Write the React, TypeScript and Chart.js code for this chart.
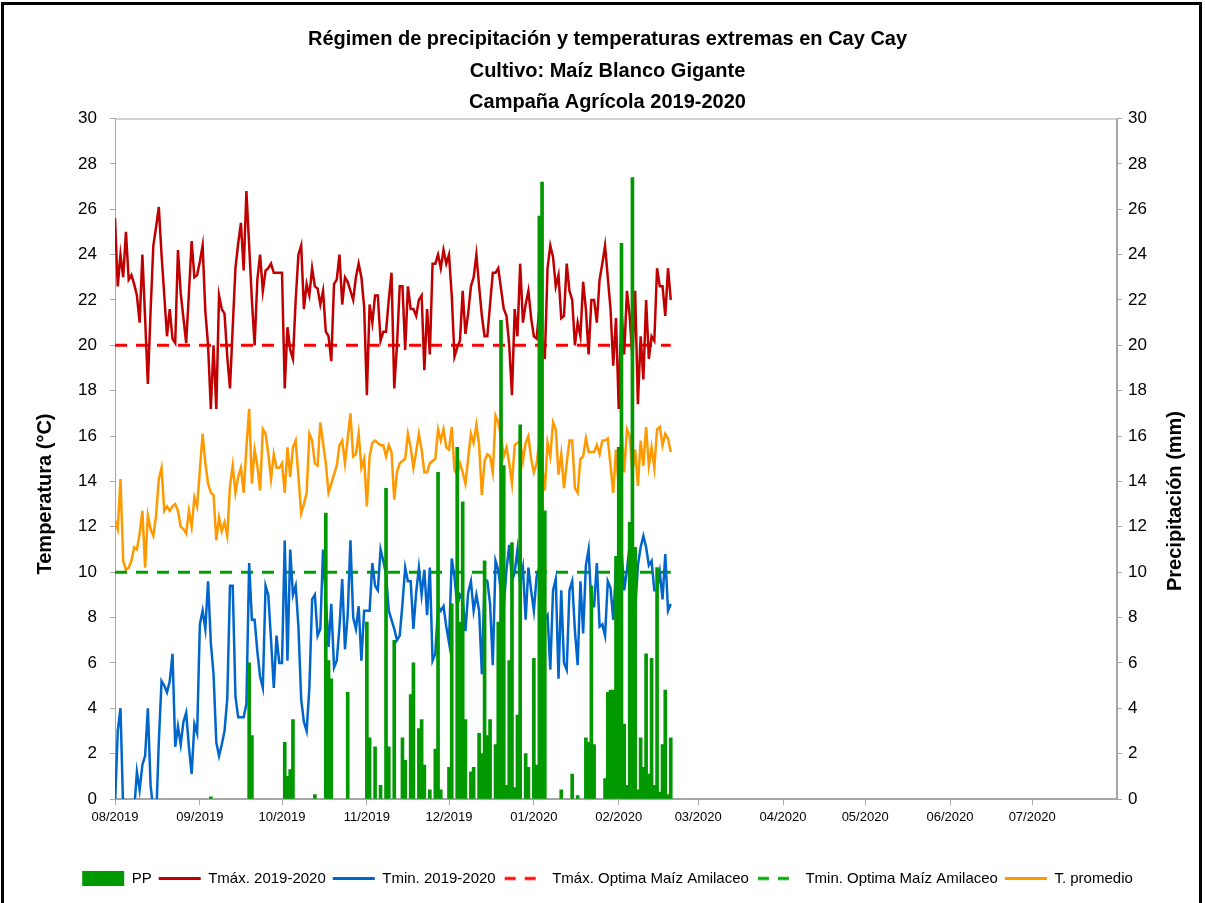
import React, { useEffect, useRef } from 'react';
import { Chart, registerables } from 'chart.js';

Chart.register(...registerables);

const START_UTC = Date.UTC(2019, 7, 1);
const DAY_MS = 86400000;

const TITLE_LINES = [
  'Régimen de precipitación y temperaturas extremas en Cay Cay',
  'Cultivo: Maíz Blanco Gigante',
  'Campaña Agrícola 2019-2020',
];

const Y_TITLE_LEFT = 'Temperatura (°C)';
const Y_TITLE_RIGHT = 'Precipitación (mm)';

const MONTH_LABELS = [
  '08/2019', '09/2019', '10/2019', '11/2019', '12/2019', '01/2020',
  '02/2020', '03/2020', '04/2020', '05/2020', '06/2020', '07/2020',
];
const AXIS_END_LABEL = '08/2020';

const SERIES_LABELS = [
  'PP',
  'Tmáx. 2019-2020',
  'Tmin. 2019-2020',
  'Tmáx. Optima Maíz Amilaceo',
  'Tmin. Optima Maíz Amilaceo',
  'T. promedio',
];

// Daily maximum temperature (°C), from 01/08/2019
const TMAX = [
  25.6, 22.6, 24.0, 23.0, 25.0, 22.9, 23.1, 22.7, 22.2, 21.0,
  24.0, 21.2, 18.3, 21.5, 24.4, 25.2, 26.1, 24.0, 22.2, 20.4,
  21.6, 20.3, 20.1, 24.2, 22.3, 21.2, 20.1, 22.3, 24.6, 23.0,
  23.1, 23.7, 24.4, 21.5, 20.0, 17.2, 20.0, 17.2, 22.2, 21.6,
  21.4, 19.5, 18.1, 20.8, 23.4, 24.5, 25.4, 23.3, 26.8, 24.4,
  22.0, 20.0, 22.9, 24.0, 22.4, 23.3, 23.4, 23.6, 23.2, 23.2,
  23.2, 23.2, 18.1, 20.8, 19.8, 19.4, 22.0, 24.0, 24.4, 21.6,
  22.7, 22.2, 23.4, 22.6, 22.5, 21.8, 22.4, 20.6, 20.4, 19.3,
  22.7, 22.9, 24.0, 21.8, 23.0, 22.8, 22.4, 22.0, 23.0, 23.6,
  23.0, 21.7, 17.8, 21.8, 21.0, 22.2, 22.2, 20.2, 20.6, 20.6,
  22.0, 23.2, 18.1, 20.0, 22.6, 22.6, 19.8, 22.6, 21.6, 21.6,
  21.3, 22.0, 22.2, 18.9, 21.6, 19.6, 23.6, 23.6, 24.0, 23.4,
  24.2, 23.6, 24.0, 22.2, 19.5, 19.9, 20.2, 22.4, 20.5, 21.4,
  22.6, 23.0, 24.0, 22.6, 21.3, 20.4, 20.4, 21.8, 23.2, 23.2,
  23.4, 22.5, 21.6, 21.3, 20.0, 17.8, 21.6, 20.4, 23.6, 21.0,
  21.8, 22.4, 21.2, 20.4, 20.3, 21.6, 20.2, 19.4, 23.4, 24.4,
  23.9, 22.6, 23.1, 21.2, 21.3, 23.6, 22.4, 22.0, 20.0, 21.0,
  20.4, 22.8, 21.6, 19.6, 22.0, 22.0, 21.0, 22.9, 23.6, 24.4,
  23.0, 21.6, 19.1, 21.2, 17.2, 21.6, 19.6, 22.4, 21.3, 19.4,
  22.4, 17.4, 20.4, 18.5, 22.0, 19.4, 20.4, 20.2, 23.4, 22.6,
  22.6, 21.3, 23.4, 22.0,
];

// Daily minimum temperature (°C)
const TMIN = [
  -0.3, 3.0, 4.0, -0.5, -1.5, -1.0, -1.5, -0.5, 1.2, 0.4,
  1.5, 1.9, 4.0, 0.6, -0.5, -1.0, 2.5, 5.2, 5.0, 4.7,
  5.2, 6.4, 2.3, 3.2, 2.4, 3.4, 3.8, 2.3, 1.1, 3.3,
  2.9, 7.7, 8.3, 7.5, 9.6, 6.9, 5.5, 2.5, 1.9, 2.4,
  3.0, 4.4, 9.4, 9.4, 4.5, 3.6, 3.6, 3.6, 4.2, 10.4,
  7.9, 7.9, 6.5, 5.4, 4.9, 9.4, 9.0, 7.0, 4.9, 7.2,
  6.0, 6.0, 11.4, 6.1, 11.0, 9.0, 9.4, 7.6, 4.4, 3.4,
  3.0, 4.9, 8.8, 9.0, 7.2, 7.5, 11.0, 8.8, 6.7, 8.6,
  5.8, 6.1, 7.6, 9.7, 6.6, 8.1, 11.4, 8.0, 7.5, 8.5,
  6.1, 8.3, 8.3, 8.3, 10.4, 9.4, 9.2, 11.0, 10.5, 9.9,
  8.3, 7.9, 7.5, 7.0, 7.2, 8.6, 10.2, 9.6, 9.6, 7.5,
  9.1, 10.2, 9.0, 10.1, 8.1, 10.2, 6.1, 6.4, 8.5, 8.3,
  8.5, 7.6, 6.9, 10.6, 9.8, 8.5, 9.0, 8.8, 7.4, 9.1,
  9.6, 8.3, 9.0, 8.3, 5.5, 9.7, 9.6, 8.6, 5.9, 10.5,
  10.1, 9.1, 8.5, 10.1, 11.2, 9.6, 10.0, 11.0, 9.5, 10.2,
  7.9, 10.2, 9.2, 8.3, 9.8, 10.2, 9.4, 7.9, 8.1, 5.7,
  9.2, 9.7, 5.3, 9.2, 6.0, 5.7, 9.2, 9.6, 7.4, 5.9,
  9.6, 7.3, 10.3, 11.0, 8.5, 8.5, 10.4, 7.6, 7.7, 7.2,
  9.6, 9.3, 7.9, 10.2, 10.7, 11.0, 9.2, 10.1, 11.2, 9.4,
  8.3, 10.3, 11.1, 11.6, 11.1, 10.3, 10.5, 9.2, 9.2, 10.0,
  8.8, 10.8, 8.3, 8.6,
];

// Daily mean temperature (°C)
const TAVG = [
  12.3, 11.9, 14.1, 10.5, 10.1, 10.2, 10.5, 11.1, 11.0, 11.7,
  12.7, 10.2, 12.5, 11.9, 11.6, 12.5, 14.1, 14.6, 12.7, 12.9,
  12.7, 12.9, 13.0, 12.7, 12.0, 11.9, 11.7, 12.7, 12.0, 13.3,
  12.9, 14.5, 16.1, 14.8, 13.9, 13.5, 13.4, 11.4, 12.4, 11.8,
  12.2, 11.6, 13.8, 14.7, 13.5, 14.2, 14.6, 13.5, 15.5, 17.2,
  13.9, 15.4, 14.7, 13.6, 16.3, 16.1, 15.2, 14.1, 15.2, 14.6,
  14.6, 14.8, 13.5, 15.5, 14.2, 15.5, 15.8, 14.2, 12.6, 13.0,
  13.5, 16.1, 15.8, 14.8, 14.7, 16.6, 15.7, 14.8, 13.5, 13.9,
  14.3, 14.7, 15.6, 15.8, 14.8, 15.9, 17.0, 15.1, 15.2, 16.1,
  14.6, 15.0, 12.9, 15.1, 15.7, 15.8, 15.7, 15.6, 15.6, 15.1,
  15.6, 15.3, 13.2, 14.4, 14.8, 14.9, 15.0, 16.1, 15.5, 14.6,
  15.3, 16.1, 15.4, 14.4, 14.4, 14.8, 14.9, 15.0, 16.3, 15.8,
  16.3, 15.5, 15.4, 16.4, 14.5, 14.3, 14.8, 14.4, 13.9, 15.0,
  16.1, 15.7, 16.5, 15.6, 13.4, 14.9, 15.2, 15.1, 14.4, 16.9,
  16.6, 16.0, 15.1, 15.5, 14.8, 13.9, 15.6, 15.7, 15.8, 14.9,
  15.7, 16.0, 15.0, 14.4, 14.8, 15.8, 14.7, 13.6, 15.7, 15.1,
  16.6, 16.3, 14.3, 15.2, 13.7, 14.8, 15.8, 15.8, 13.7, 13.5,
  15.0, 15.1, 15.9, 15.3, 15.3, 15.3, 15.6, 15.2, 15.8, 15.8,
  15.9, 14.7, 13.5, 15.4, 13.7, 16.3, 14.4, 16.3, 16.0, 14.4,
  15.4, 13.8, 15.8, 14.7, 16.4, 14.7, 15.5, 14.6, 16.3, 16.4,
  15.6, 16.1, 15.9, 15.3,
];

// Precipitation (mm): day number (0 = 01/08/2019) and amount, rainy days only
const PP_DAY = [
  35, 49, 50, 62, 63, 64, 65, 73, 77, 78,
  79, 85, 92, 93, 95, 97, 99, 100, 102, 105,
  106, 108, 109, 111, 112, 113, 115, 117, 118, 119,
  122, 123, 125, 126, 127, 128, 130, 131, 133, 134,
  135, 136, 137, 139, 140, 141, 142, 143, 144, 145,
  146, 147, 148, 150, 151, 153, 154, 155, 156, 157,
  163, 167, 169, 172, 173, 174, 175, 179, 180, 181,
  182, 183, 184, 185, 186, 187, 188, 189, 190, 191,
  192, 193, 194, 195, 196, 197, 198, 199, 200, 201,
  202, 203,
];
const PP_MM = [
  0.1, 6.0, 2.8, 2.5, 1.0, 1.3, 3.5, 0.2, 12.6, 6.1,
  5.3, 4.7, 7.8, 2.7, 2.3, 0.6, 13.7, 2.3, 7.0, 2.7,
  1.7, 4.6, 6.0, 3.1, 3.5, 1.5, 0.4, 2.2, 14.4, 0.4,
  1.4, 8.6, 15.5, 7.8, 13.1, 3.5, 1.2, 1.4, 2.9, 2.0,
  10.5, 2.8, 3.5, 2.4, 7.8, 21.1, 14.7, 0.6, 6.1, 11.3,
  0.5, 3.7, 16.5, 2.0, 1.4, 6.2, 1.5, 25.7, 27.2, 12.7,
  0.4, 1.1, 0.15, 2.7, 2.5, 9.4, 2.4, 0.9, 4.7, 4.8,
  4.8, 10.7, 15.5, 24.5, 3.3, 0.6, 12.2, 27.4, 11.1, 0.4,
  2.7, 1.4, 6.4, 1.1, 6.2, 0.6, 10.2, 0.3, 2.4, 4.8,
  0.2, 2.7,
];

const TMAX_OPTIMA = 20;
const TMIN_OPTIMA = 10;

const Y_MIN = 0;
const Y_MAX = 30;
const Y_STEP = 2;

function monthOffset(label: string): number {
  const [m, y] = label.split('/').map(Number);
  return Math.round((Date.UTC(y, m - 1, 1) - START_UTC) / DAY_MS);
}

const FONT = "'Liberation Sans', Arial, sans-serif";

function dashedSwatch(color: string): HTMLCanvasElement {
  const c = document.createElement('canvas');
  c.width = 42;
  c.height = 6;
  const g = c.getContext('2d')!;
  g.strokeStyle = color;
  g.lineWidth = 3;
  g.setLineDash([11, 9]);
  g.beginPath();
  g.moveTo(2, 3);
  g.lineTo(42, 3);
  g.stroke();
  return c;
}

export default function App() {
  const ref = useRef<HTMLCanvasElement>(null);

  useEffect(() => {
    if (!ref.current) return;
    const days = TMAX.map((_, i) => i);
    const xy = (arr: number[]) => arr.map((v, i) => ({ x: i, y: v }));

    const frame = {
      id: 'frame',
      beforeDatasetsDraw(chart: any) {
        const { ctx, chartArea } = chart;
        ctx.save();
        ctx.strokeStyle = '#a6a6a6';
        ctx.lineWidth = 1;
        ctx.strokeRect(chartArea.left + 0.5, chartArea.top + 0.5, chartArea.right - chartArea.left - 1, chartArea.bottom - chartArea.top - 1);
        ctx.restore();
      },
    };

    const axisTitles = {
      id: 'axisTitles',
      afterDraw(chart: any) {
        const { ctx } = chart;
        const draw = (text: string, x: number, y: number) => {
          ctx.save();
          ctx.translate(x, y);
          ctx.rotate(-Math.PI / 2);
          ctx.font = `bold 20px ${FONT}`;
          ctx.fillStyle = '#000';
          ctx.textAlign = 'center';
          ctx.textBaseline = 'middle';
          ctx.fillText(text, 0, 0);
          ctx.restore();
        };
        draw(Y_TITLE_LEFT, 45, 494);
        draw(Y_TITLE_RIGHT, 1175, 501);
      },
    };

    const monthTicks = MONTH_LABELS.map((l) => monthOffset(l));
    const swatchTmaxOpt = dashedSwatch('#ff0000');
    const swatchTminOpt = dashedSwatch('#00a000');

    const yAxisCommon = (width: number, tickPad: number) => ({
      type: 'linear',
      min: Y_MIN,
      max: Y_MAX,
      ticks: { stepSize: Y_STEP, color: '#000', font: { family: FONT, size: 17 }, padding: tickPad },
      grid: { display: true, drawOnChartArea: false, drawTicks: true, tickLength: 5, color: '#a6a6a6', offset: false },
      border: { display: true, color: '#a6a6a6' },
      afterFit: (s: any) => { s.width = width; },
    });

    const chart = new Chart(ref.current, {
      type: 'line',
      data: {
        datasets: [
          {
            type: 'bar',
            label: SERIES_LABELS[0],
            data: PP_DAY.map((d, i) => ({ x: d, y: PP_MM[i] })),
            yAxisID: 'y1',
            backgroundColor: '#009900',
            borderColor: '#009900',
            borderWidth: 0,
            barThickness: 3,
            grouped: false,
            order: 0,
          } as any,
          {
            label: SERIES_LABELS[1],
            data: xy(TMAX),
            borderColor: '#c00000',
            backgroundColor: '#c00000',
            borderWidth: 2.5,
            pointRadius: 0,
            yAxisID: 'y',
            order: 1,
          },
          {
            label: SERIES_LABELS[2],
            data: xy(TMIN),
            borderColor: '#0066cc',
            backgroundColor: '#0066cc',
            borderWidth: 2.5,
            pointRadius: 0,
            yAxisID: 'y',
            order: 2,
          },
          {
            label: SERIES_LABELS[3],
            data: days.map((i) => ({ x: i, y: TMAX_OPTIMA })),
            borderColor: '#ff0000',
            backgroundColor: '#ff0000',
            borderWidth: 3,
            borderDash: [12, 9],
            pointRadius: 0,
            yAxisID: 'y',
            order: 3,
          },
          {
            label: SERIES_LABELS[4],
            data: days.map((i) => ({ x: i, y: TMIN_OPTIMA })),
            borderColor: '#00a000',
            backgroundColor: '#00a000',
            borderWidth: 3,
            borderDash: [12, 9],
            pointRadius: 0,
            yAxisID: 'y',
            order: 4,
          },
          {
            label: SERIES_LABELS[5],
            data: xy(TAVG),
            borderColor: '#ff9900',
            backgroundColor: '#ff9900',
            borderWidth: 2.5,
            pointRadius: 0,
            yAxisID: 'y',
            order: 5,
          },
        ],
      },
      options: {
        responsive: false,
        animation: false,
        devicePixelRatio: 1,
        layout: { padding: { left: 20, right: 10, top: 0, bottom: 7 } },
        scales: {
          x: {
            type: 'linear',
            min: 0,
            max: monthOffset(AXIS_END_LABEL),
            offset: false,
            grid: { display: true, drawOnChartArea: false, drawTicks: true, tickLength: 6, color: '#a6a6a6', offset: false },
            border: { display: true, color: '#a6a6a6' },
            ticks: {
              autoSkip: false,
              maxRotation: 0,
              color: '#000',
              font: { family: FONT, size: 13 },
              padding: 5,
              callback: (v: any) => {
                const idx = monthTicks.indexOf(Math.round(Number(v)));
                return idx >= 0 ? MONTH_LABELS[idx] : '';
              },
            },
            afterBuildTicks: (s: any) => {
              s.ticks = monthTicks.map((v) => ({ value: v }));
            },
            afterFit: (s: any) => { s.height = 65; },
          } as any,
          y: { ...yAxisCommon(95, 13), position: 'left' } as any,
          y1: { ...yAxisCommon(78, 6), position: 'right' } as any,
        },
        plugins: {
          title: {
            display: true,
            text: TITLE_LINES,
            color: '#000',
            font: { family: FONT, size: 20, weight: 'bold', lineHeight: 1.575 },
            padding: { top: 24, bottom: 0 },
          },
          legend: {
            position: 'bottom',
            labels: {
              usePointStyle: true,
              pointStyleWidth: 42,
              boxHeight: 15,
              color: '#000',
              font: { family: FONT, size: 15 },
              padding: 7,
              generateLabels: (c: any) => {
                const items = (Chart.defaults.plugins.legend.labels as any).generateLabels(c);
                items.forEach((it: any) => {
                  if (it.datasetIndex === 0) {
                    it.pointStyle = 'rect';
                  } else if (it.datasetIndex === 3) {
                    it.pointStyle = swatchTmaxOpt;
                  } else if (it.datasetIndex === 4) {
                    it.pointStyle = swatchTminOpt;
                  } else {
                    it.pointStyle = 'line';
                    it.lineWidth = 3;
                  }
                });
                return items;
              },
            },
          },
          tooltip: { enabled: false },
        },
      } as any,
      plugins: [frame, axisTitles],
    });
    return () => chart.destroy();
  }, []);

  return (
    <div style={{ position: 'fixed', left: 0, top: 0, width: 1205, height: 903, overflow: 'hidden', background: '#fff' }}>
      <canvas ref={ref} width={1205} height={903} style={{ position: 'absolute', left: 0, top: 0, width: 1205, height: 903 }} />
      <div style={{ position: 'absolute', left: 1, top: 2, width: 1201, height: 1000, border: '3px solid #000', boxSizing: 'border-box', pointerEvents: 'none' }} />
    </div>
  );
}
